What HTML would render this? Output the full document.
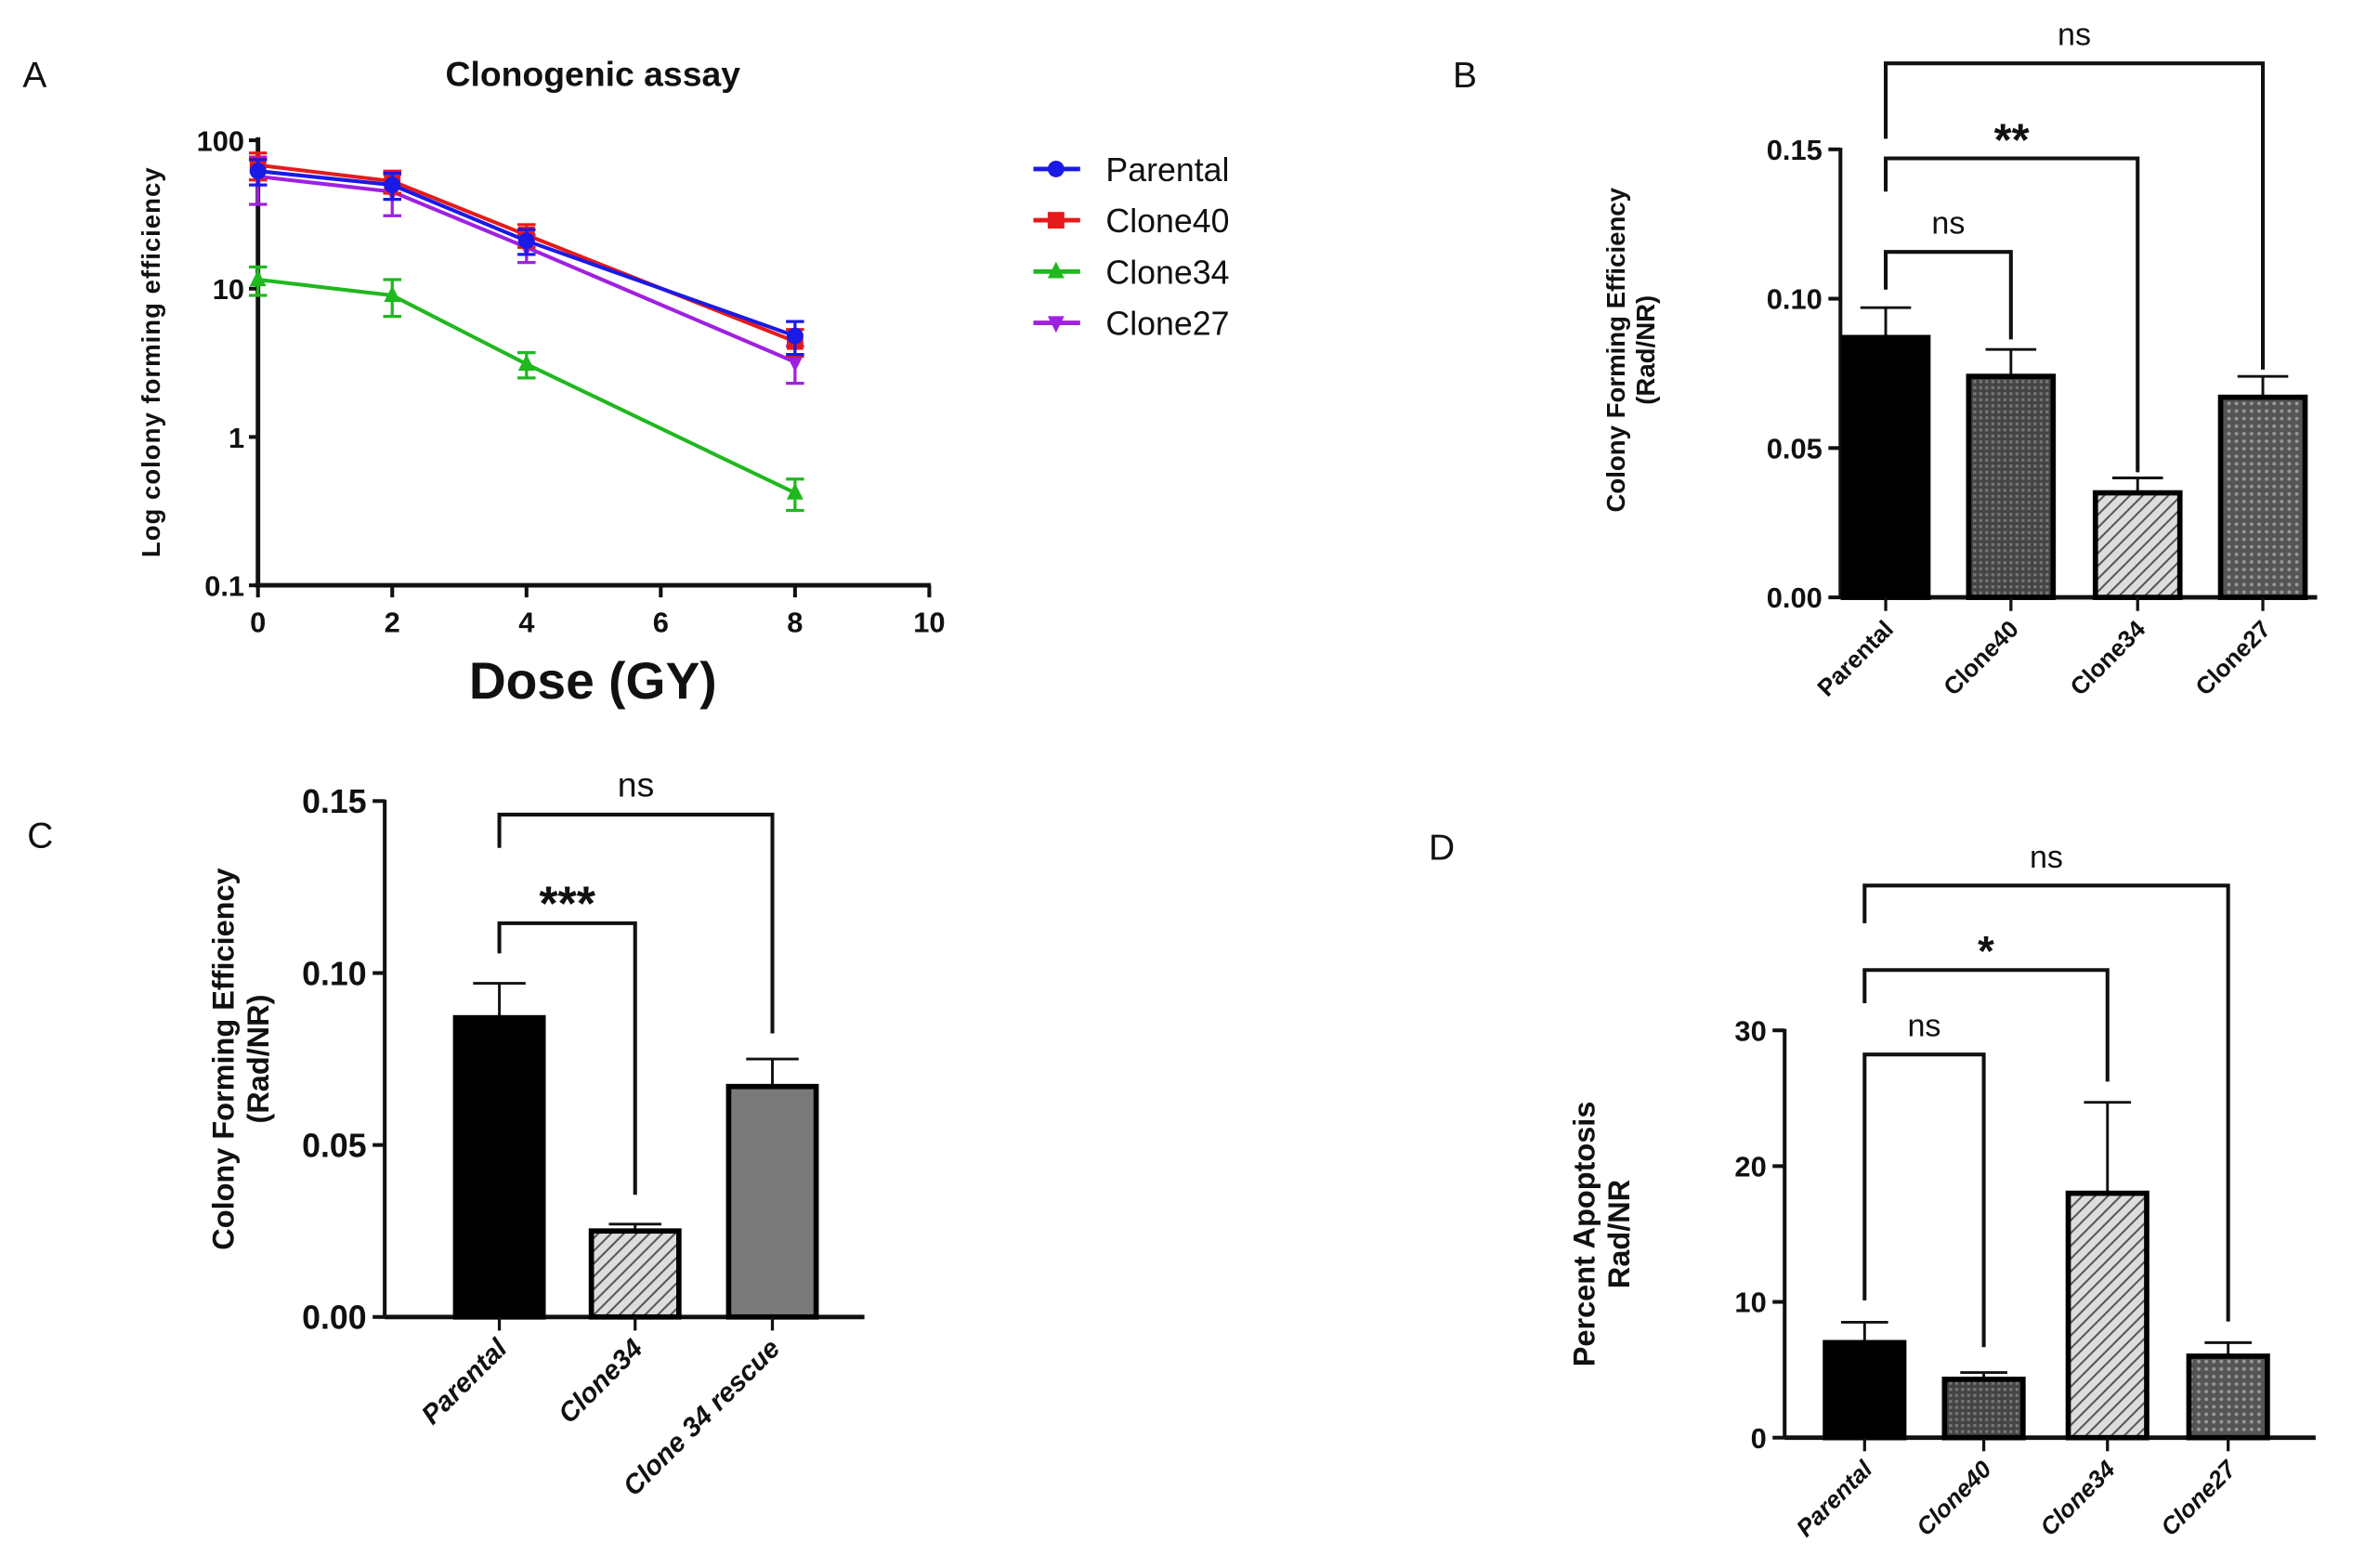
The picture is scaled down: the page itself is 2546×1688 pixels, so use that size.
<!DOCTYPE html>
<html><head><meta charset="utf-8"><style>
html,body{margin:0;padding:0;background:#fff}
svg{display:block}
text{font-family:"Liberation Sans",Arial,sans-serif;fill:#111}
</style></head><body>
<svg id="fig" width="2546" height="1688" viewBox="0 0 1567.7 1039.4" xmlns="http://www.w3.org/2000/svg">
<defs>
<pattern id="hatch" width="6" height="6" patternUnits="userSpaceOnUse" patternTransform="rotate(45)"><rect width="6" height="6" fill="#ddd"/><line x1="0" y1="0" x2="0" y2="6" stroke="#555" stroke-width="2.5"/></pattern>
<pattern id="dots" width="4" height="4" patternUnits="userSpaceOnUse"><rect width="4" height="4" fill="#444"/><rect width="2" height="2" fill="#777"/></pattern>
<pattern id="dots2" width="5" height="5" patternUnits="userSpaceOnUse"><rect width="5" height="5" fill="#555"/><circle cx="2.5" cy="2.5" r="1.2" fill="#999"/></pattern>
</defs>
<g id="pa"></g>
<g id="pb"></g>
<g id="pc"></g>
<g id="pd"></g>
</svg>
<script>
// Panel A data
const doses = [0, 2, 4, 8];
const seriesNames = ["Parental", "Clone40", "Clone34", "Clone27"];
const parentalVals = [62, 50, 21, 4.8];
const parentalErr = [12, 10, 4, 1.2];
const clone40Vals = [68, 53, 23, 4.4];
const clone40Err = [14, 9, 4, 0.9];
const clone34Vals = [11.5, 9, 3.1, 0.42];
const clone34Err = [2.5, 2.5, 0.6, 0.1];
const clone27Vals = [57, 45, 19, 3.2];
const clone27Err = [20, 14, 4, 0.9];
const aXTicks = [0, 2, 4, 6, 8, 10];
const aYTicks = [0.1, 1, 10, 100];
const aYTickLabels = ["0.1", "1", "10", "100"];
// Panel B data
const bCats = ["Parental", "Clone40", "Clone34", "Clone27"];
const bVals = [0.087, 0.074, 0.035, 0.067];
const bErr = [0.010, 0.009, 0.005, 0.007];
const bTicks = [0, 0.05, 0.10, 0.15];
const bTickLabels = ["0.00", "0.05", "0.10", "0.15"];
// Panel C data
const cCats = ["Parental", "Clone34", "Clone 34 rescue"];
const cVals = [0.087, 0.025, 0.067];
const cErr = [0.010, 0.002, 0.008];
const cTicks = [0, 0.05, 0.10, 0.15];
const cTickLabels = ["0.00", "0.05", "0.10", "0.15"];
// Panel D data
const dCats = ["Parental", "Clone40", "Clone34", "Clone27"];
const dVals = [7, 4.3, 18, 6];
const dErr = [1.5, 0.5, 6.7, 1.0];
const dTicks = [0, 10, 20, 30];
const dTickLabels = ["0", "10", "20", "30"];

const NS = "http://www.w3.org/2000/svg";
function mk(parent, tag, attrs, txt){
  const e = document.createElementNS(NS, tag);
  for (const k in attrs) e.setAttribute(k, attrs[k]);
  if (txt !== undefined) e.textContent = txt;
  parent.appendChild(e);
  return e;
}
// ---------- Panel A ----------
const pa = document.getElementById('pa');
const ax = v => 171 + v * (616 - 171) / 10;
const ay = v => 388 - (Math.log10(v) + 1) * (388 - 93) / 3;
let t = mk(pa, 'text', {x: 15, y: 58, 'font-size': 24});
t.textContent = 'A';


t = mk(pa, 'text', {x: 393, y: 57, 'font-size': 23, 'font-weight': 'bold', 'text-anchor': 'middle'}, 'Clonogenic assay');


let l = mk(pa, 'line', {x1: 171, y1: 91, x2: 171, y2: 389, stroke: '#111', 'stroke-width': 3});


l = mk(pa, 'line', {x1: 169, y1: 388, x2: 617, y2: 388, stroke: '#111', 'stroke-width': 3});


aXTicks.forEach(v => {
  const x = ax(v);
  const tk = mk(pa, 'line', {x1: x, y1: 388, x2: x, y2: 396, stroke: '#111', 'stroke-width': 2.5});
  
  
  const tl = mk(pa, 'text', {x: x, y: 419, 'font-size': 19, 'font-weight': 'bold', 'text-anchor': 'middle'}, String(v));
  
  
});
aYTicks.forEach((v, i) => {
  const y = ay(v);
  const tk = mk(pa, 'line', {x1: 165, y1: y, x2: 171, y2: y, stroke: '#111', 'stroke-width': 2.5});
  
  
  const tl = mk(pa, 'text', {x: 162, y: y + 7, 'font-size': 19, 'font-weight': 'bold', 'text-anchor': 'end'}, aYTickLabels[i]);
  
  
});
t = mk(pa, 'text', {x: 0, y: 0, 'font-size': 17, 'font-weight': 'bold', 'text-anchor': 'middle', transform: 'translate(106,240) rotate(-90)', 'letter-spacing': '0.6'}, 'Log colony forming efficiency');


t = mk(pa, 'text', {x: 393, y: 463, 'font-size': 34, 'font-weight': 'bold', 'text-anchor': 'middle'}, 'Dose (GY)');



const colors = ['#1a1ae6', '#e61a1a', '#1fb81f', '#a020e0'];
const allVals = [parentalVals, clone40Vals, clone34Vals, clone27Vals];
const allErr = [parentalErr, clone40Err, clone34Err, clone27Err];
function marker(g, shape, x, y, c, s){
  let m;
  if (shape === 0) m = mk(g, 'circle', {cx: x, cy: y, r: s, fill: c});
  else if (shape === 1) m = mk(g, 'rect', {x: x - s, y: y - s, width: 2 * s, height: 2 * s, fill: c});
  else if (shape === 2) m = mk(g, 'polygon', {points: `${x},${y - s * 1.2} ${x - s},${y + s * 0.8} ${x + s},${y + s * 0.8}`, fill: c});
  else m = mk(g, 'polygon', {points: `${x},${y + s * 1.2} ${x - s},${y - s * 0.8} ${x + s},${y - s * 0.8}`, fill: c});
  return m;
}
[3, 2, 1, 0].forEach(si => {
  const g = mk(pa, 'g', {});
  
  
  const c = colors[si];
  const pts = doses.map((d, i) => ax(d) + ',' + ay(allVals[si][i])).join(' ');
  const pl = mk(g, 'polyline', {points: pts, fill: 'none', stroke: c, 'stroke-width': 2.5});
  
  
  doses.forEach((d, i) => {
    const x = ax(d), v = allVals[si][i], e = allErr[si][i];
    const y1 = ay(v + e), y2 = ay(Math.max(v - e, 0.11));
    const eb = mk(g, 'path', {d: `M${x},${y1}V${y2}M${x - 6},${y1}H${x + 6}M${x - 6},${y2}H${x + 6}`, stroke: c, 'stroke-width': 2, fill: 'none'});
    
    
    const m = marker(g, si, x, ay(v), c, 5.5);
    
    
  });
});
seriesNames.forEach((n, i) => {
  const g = mk(pa, 'g', {});
  
  
  const y = 112 + i * 34;
  mk(g, 'line', {x1: 685, y1: y, x2: 716, y2: y, stroke: colors[i], 'stroke-width': 3});
  marker(g, i, 700, y, colors[i], 5.5);
  mk(g, 'text', {x: 733, y: y + 8, 'font-size': 22}, n);
});

// ---------- Bar chart helper ----------
function barChart(p, cfg){
  const yv = v => cfg.y0 - v * (cfg.y0 - cfg.yTop) / cfg.vTop;
  cfg.brackets.forEach(b => {
    const g = mk(p, 'g', {});
    
    
    mk(g, 'path', {d: `M${cfg.cx[b.i]},${b.ya}V${b.y}H${cfg.cx[b.j]}V${b.yb}`, stroke: '#111', 'stroke-width': 2.5, fill: 'none'});
    mk(g, 'text', {x: (cfg.cx[b.i] + cfg.cx[b.j]) / 2, y: b.y - b.dy, 'font-size': b.fs, 'font-weight': b.bold ? 'bold' : 'normal', 'text-anchor': 'middle'}, b.label);
  });
  let a = mk(p, 'line', {x1: cfg.ax, y1: cfg.yTop - 1, x2: cfg.ax, y2: cfg.y0 + 1, stroke: '#111', 'stroke-width': 2.5});
  
  
  a = mk(p, 'line', {x1: cfg.ax, y1: cfg.y0, x2: cfg.xEnd, y2: cfg.y0, stroke: '#111', 'stroke-width': 3});
  
  
  cfg.ticks.forEach((v, i) => {
    const y = yv(v);
    const tk = mk(p, 'line', {x1: cfg.ax - 8, y1: y, x2: cfg.ax, y2: y, stroke: '#111', 'stroke-width': 2.5});
    
    
    const tl = mk(p, 'text', {x: cfg.ax - 12, y: y + cfg.tfs * 0.36, 'font-size': cfg.tfs, 'font-weight': 'bold', 'text-anchor': 'end'}, cfg.tickLabels[i]);
    
    
  });
  cfg.cats.forEach((c, i) => {
    const x = cfg.cx[i], v = cfg.vals[i], e = cfg.err[i];
    const g = mk(p, 'g', {});
    
    
    const eb = mk(g, 'path', {d: `M${x},${yv(v)}V${yv(v + e)}M${x - cfg.w * 0.3},${yv(v + e)}H${x + cfg.w * 0.3}`, stroke: '#111', 'stroke-width': 1.8, fill: 'none'});
    
    
    const r = mk(g, 'rect', {x: x - cfg.w / 2, y: yv(v), width: cfg.w, height: cfg.y0 - yv(v), fill: cfg.fills[i], stroke: '#000', 'stroke-width': 3.5});
    
    
    const tk = mk(p, 'line', {x1: x, y1: cfg.y0, x2: x, y2: cfg.y0 + 9, stroke: '#111', 'stroke-width': 2});
    
    
    const tl = mk(p, 'text', {x: 0, y: 0, 'font-size': cfg.cfs, 'font-weight': 'bold', 'font-style': cfg.italic ? 'italic' : 'normal', 'text-anchor': 'end', transform: `translate(${x + 6},${cfg.y0 + 22}) rotate(-45)`}, c);
    
    
  });
  const yl = mk(p, 'text', {x: 0, y: 0, 'font-size': cfg.lfs, 'font-weight': 'bold', 'text-anchor': 'middle', transform: `translate(${cfg.lx},${cfg.ly}) rotate(-90)`});
  
  
  cfg.ylabel.forEach((s, k) => mk(yl, 'tspan', {x: 0, dy: k === 0 ? 0 : cfg.lfs * 1.15}, s));
  const L = mk(p, 'text', {x: cfg.letter[0], y: cfg.letter[1], 'font-size': 24}, cfg.letter[2]);
  
  
}

barChart(document.getElementById('pb'), {
  ax: 1220, y0: 396, yTop: 99, vTop: 0.15, xEnd: 1536, ticks: bTicks, tickLabels: bTickLabels, tfs: 19,
  cats: bCats, vals: bVals, err: bErr, cx: [1250, 1333, 1417, 1500], w: 56, cfs: 16, italic: false,
  fills: ['#000', 'url(#dots)', 'url(#hatch)', 'url(#dots2)'],
  brackets: [
    {i: 0, j: 3, y: 42, ya: 92, yb: 245, label: 'ns', fs: 21, dy: 12},
    {i: 0, j: 2, y: 105, ya: 127, yb: 313, label: '**', fs: 30, bold: true, dy: 2},
    {i: 0, j: 1, y: 167, ya: 192, yb: 225, label: 'ns', fs: 21, dy: 12}
  ],
  ylabel: ['Colony Forming Efficiency', '(Rad/NR)'], lfs: 17, lx: 1077, ly: 232, letter: [963, 58, 'B']
});
barChart(document.getElementById('pc'), {
  ax: 255, y0: 873, yTop: 531, vTop: 0.15, xEnd: 573, ticks: cTicks, tickLabels: cTickLabels, tfs: 22,
  cats: cCats, vals: cVals, err: cErr, cx: [331, 421, 512], w: 58, cfs: 18, italic: true,
  fills: ['#000', 'url(#hatch)', '#7a7a7a'],
  brackets: [
    {i: 0, j: 2, y: 540, ya: 562, yb: 685, label: 'ns', fs: 23, dy: 12},
    {i: 0, j: 1, y: 612, ya: 632, yb: 792, label: '***', fs: 32, bold: true, dy: 2}
  ],
  ylabel: ['Colony Forming Efficiency', '(Rad/NR)'], lfs: 20, lx: 155, ly: 702, letter: [18, 562, 'C']
});
barChart(document.getElementById('pd'), {
  ax: 1183, y0: 953, yTop: 683, vTop: 30, xEnd: 1535, ticks: dTicks, tickLabels: dTickLabels, tfs: 19,
  cats: dCats, vals: dVals, err: dErr, cx: [1236, 1315, 1397, 1477], w: 52, cfs: 16, italic: true,
  fills: ['#000', 'url(#dots)', 'url(#hatch)', 'url(#dots2)'],
  brackets: [
    {i: 0, j: 3, y: 587, ya: 612, yb: 876, label: 'ns', fs: 21, dy: 12},
    {i: 0, j: 2, y: 643, ya: 665, yb: 717, label: '*', fs: 28, bold: true, dy: 3},
    {i: 0, j: 1, y: 699, ya: 862, yb: 893, label: 'ns', fs: 21, dy: 12}
  ],
  ylabel: ['Percent Apoptosis', 'Rad/NR'], lfs: 20, lx: 1057, ly: 818, letter: [947, 570, 'D']
});
</script>
</body></html>
